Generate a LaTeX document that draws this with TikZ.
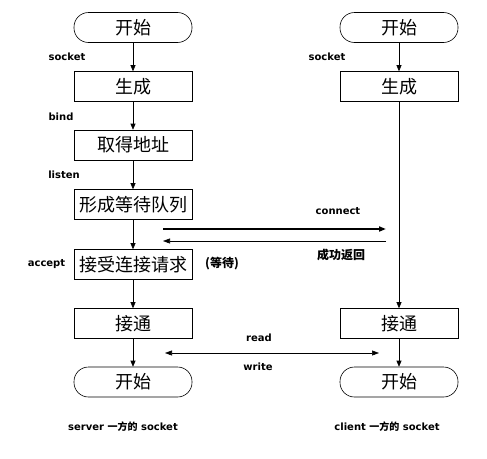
\documentclass[tikz,border=0pt]{standalone}
\usepackage{fontspec}
\setmainfont{DejaVu Sans}
\newfontfamily\cjk{Noto Sans CJK SC}
\usetikzlibrary{arrows.meta}
\begin{document}
\begin{tikzpicture}[x=1pt,y=-1pt,
  box/.style={draw,line width=0.6pt,minimum width=118pt,minimum height=30pt,inner sep=0pt,font=\cjk\fontsize{18}{20}\selectfont},
  term/.style={box,rounded corners=14.5pt},
  lbl/.style={inner sep=0pt,font=\fontsize{10}{12}\selectfont\bfseries},
  clbl/.style={inner sep=0pt,font=\cjk\fontsize{12}{14}\selectfont\bfseries},
  flow/.style={line width=0.6pt,-{Triangle[length=6pt,width=5pt]}},
  msg/.style={line width=0.6pt,-{Triangle[length=7pt,width=5pt]}}]
\useasboundingbox[fill=white] (0,0) rectangle (487,458);
% server column
\node[term] (s0) at (133,27.5) {开始};
\node[box]  (s1) at (133,86.5) {生成};
\node[box]  (s2) at (133,145) {取得地址};
\node[box]  (s3) at (133,204.5) {形成等待队列};
\node[box]  (s4) at (133,264.5) {接受连接请求};
\node[box]  (s5) at (133,323.5) {接通};
\node[term] (s6) at (133,382) {开始};
% client column
\node[term] (c0) at (399,27.5) {开始};
\node[box]  (c1) at (399,86.5) {生成};
\node[box]  (c5) at (399,323.5) {接通};
\node[term] (c6) at (399,382) {开始};
% vertical flows
\draw[flow] (s0) -- (s1);
\draw[flow] (s1) -- (s2);
\draw[flow] (s2) -- (s3);
\draw[flow] (s3) -- (s4);
\draw[flow] (s4) -- (s5);
\draw[flow] (s5) -- (s6);
\draw[flow] (c0) -- (c1);
\draw[flow] (c1) -- (c5);
\draw[flow] (c5) -- (c6);
% messages
\coordinate (cl) at (163,229);
\coordinate (cr) at (386,229);
\coordinate (rl) at (163,241);
\coordinate (rr) at (386,241);
\coordinate (wl) at (165,353);
\coordinate (wr) at (379,353);
\draw[line width=2pt,-{Triangle[length=7pt,width=5pt]}] (cl) -- (cr);
\draw[msg] (rr) -- (rl);
\draw[line width=0.6pt,{Triangle[length=7pt,width=5pt]}-{Triangle[length=7pt,width=5pt]}] (wl) -- (wr);
% labels
\node[lbl] (l1) at (67,57) {socket};
\node[lbl] (l2) at (61,117) {bind};
\node[lbl] (l3) at (64,175) {listen};
\node[lbl] (l4) at (46.5,264) {accept};
\node[lbl] (l5) at (327,57) {socket};
\node[lbl] (l6) at (338,211) {connect};
\node[clbl] (l7) at (341,255) {成功返回};
\node[clbl] (l8) at (222,264) {(等待)};
\node[lbl] (l9) at (259,338) {read};
\node[lbl] (l10) at (258,367) {write};
\node[lbl] (l11) at (123,427) {server {\cjk 一方的} socket};
\node[lbl] (l12) at (387,427) {client {\cjk 一方的} socket};
\end{tikzpicture}
\end{document}
